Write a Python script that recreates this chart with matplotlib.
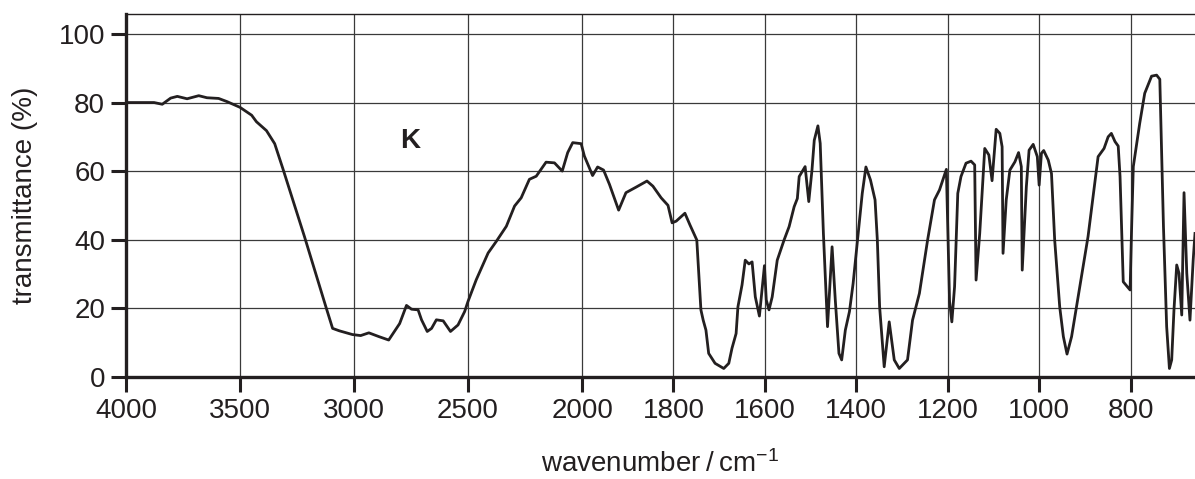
#!/usr/bin/env python3

import numpy as np
import matplotlib
matplotlib.use('Agg')
import matplotlib.pyplot as plt

plt.rcParams['font.family'] = ['Liberation Sans', 'DejaVu Sans']
plt.rcParams['mathtext.fontset'] = 'custom'
plt.rcParams['mathtext.rm'] = 'Liberation Sans'
plt.rcParams['mathtext.it'] = 'Liberation Sans'

INK = '#231f20'

# spectrum, 4000-2000 cm-1 part
wn_high = [4000, 3877, 3841, 3804, 3775, 3732, 3681, 3645, 3594, 3558,
           3500, 3449, 3428, 3384, 3348, 3312, 3217, 3123, 3094, 3065,
           3007, 2971, 2935, 2891, 2848, 2800, 2770, 2748, 2719, 2704,
           2679, 2660, 2639, 2609, 2577, 2544, 2515, 2500, 2464, 2412,
           2376, 2332, 2296, 2267, 2231, 2201, 2158, 2121, 2087, 2063,
           2041, 2004]
t_high = [80.0, 80.0, 79.5, 81.3, 81.8, 81.1, 82.0, 81.4, 81.2, 80.3,
          78.6, 76.3, 74.4, 71.8, 68.0, 60.7, 40.8, 20.3, 14.1, 13.4,
          12.3, 12.0, 12.8, 11.7, 10.7, 15.5, 20.8, 19.7, 19.5, 16.6,
          13.2, 14.1, 16.6, 16.3, 13.2, 15.1, 19.0, 22.0, 28.3, 36.1,
          39.5, 43.9, 49.8, 52.2, 57.6, 58.5, 62.6, 62.4, 60.0, 65.4,
          68.3, 68.0]

# fingerprint part, below 2000 cm-1
wn_low = [1995, 1977, 1966, 1953, 1940, 1920, 1904, 1882, 1858, 1845,
          1827, 1812, 1803, 1794, 1775, 1764, 1749, 1740, 1735, 1729,
          1723, 1709, 1690, 1679, 1672, 1663, 1659, 1650, 1643, 1635,
          1628, 1621, 1612, 1601, 1597, 1591, 1584, 1573, 1558, 1547,
          1536, 1529, 1525, 1512, 1504, 1497, 1492, 1484, 1479, 1472,
          1463, 1453, 1446, 1438, 1432, 1424, 1415, 1407, 1396, 1387,
          1379, 1369, 1359, 1354, 1349, 1339, 1328, 1317, 1306, 1288,
          1277, 1262, 1244, 1229, 1218, 1203, 1196, 1191, 1185, 1178,
          1171, 1160, 1149, 1141, 1138, 1130, 1119, 1110, 1103, 1094,
          1086, 1081, 1079, 1072, 1064, 1053, 1045, 1039, 1037, 1028,
          1022, 1013, 1004, 1000, 995, 990, 980, 973, 966, 955,
          947, 939, 929, 911, 893, 871, 858, 849, 842, 834,
          827, 823, 816, 801, 798, 794, 780, 769, 754, 743,
          736, 728, 721, 715, 710, 705, 699, 694, 688, 683,
          677, 670, 663, 659]
t_low = [64.4, 58.7, 61.2, 60.3, 56.1, 48.6, 53.7, 55.3, 57.1, 55.6,
         52.2, 50.0, 44.9, 45.4, 47.7, 44.3, 39.9, 19.5, 16.5, 13.6,
         6.8, 3.9, 2.4, 3.9, 8.3, 12.6, 20.4, 26.8, 34.0, 32.9,
         33.5, 23.3, 17.7, 32.4, 22.4, 19.5, 23.3, 34.0, 39.9, 43.8,
         49.6, 52.0, 58.4, 61.3, 51.1, 60.3, 69.0, 73.2, 68.1, 41.8,
         14.6, 37.9, 22.4, 6.8, 4.9, 13.6, 19.0, 27.2, 41.8, 53.5,
         61.2, 57.4, 51.6, 39.9, 20.4, 2.9, 16.0, 4.9, 2.4, 4.9,
         16.5, 24.3, 39.9, 51.6, 54.5, 60.5, 22.0, 16.0, 26.3, 53.5,
         58.4, 62.3, 62.9, 61.8, 28.2, 41.8, 66.6, 64.7, 57.2, 72.2,
         71.0, 67.1, 36.0, 51.6, 60.3, 62.7, 65.4, 61.3, 31.1, 55.4,
         66.1, 67.8, 64.2, 55.9, 65.2, 66.0, 63.2, 59.3, 39.9, 20.4,
         11.7, 6.6, 11.7, 26.3, 40.9, 64.2, 66.6, 70.0, 71.0, 68.6,
         67.3, 58.4, 27.7, 25.3, 41.8, 61.3, 73.9, 82.7, 87.7, 88.0,
         86.8, 43.8, 14.6, 2.4, 4.9, 19.5, 32.6, 30.2, 18.0, 53.7,
         30.2, 16.5, 34.0, 41.8]

x_ticks = [4000, 3500, 3000, 2500, 2000, 1800, 1600, 1400, 1200, 1000, 800]
y_ticks = [0, 20, 40, 60, 80, 100]


# the chart changes scale at 2000 cm-1 (500 per division above, 200 below)
def fwd(w):
    w = np.asarray(w, dtype=float)
    return np.where(w >= 2000, (w - 2000) / 500 * 114.0, (w - 2000) / 200 * 91.4)


def inv(p):
    p = np.asarray(p, dtype=float)
    return np.where(p >= 0, 2000 + p * 500 / 114.0, 2000 + p * 200 / 91.4)


def main():
    wn = wn_high + wn_low
    trans = t_high + t_low

    fig = plt.figure(figsize=(11.95, 4.79), dpi=100)
    ax = fig.add_axes([126 / 1195, 102.3 / 479, 1 - 126 / 1195, 362.4 / 479])

    ax.set_xscale('function', functions=(fwd, inv))
    ax.plot(wn, trans, color=INK, lw=2.0, solid_joinstyle='round', zorder=3)

    ax.set_xlim(4000, 659)
    ax.set_ylim(0, 105.75)
    ax.set_xticks(x_ticks)
    ax.set_xticklabels([str(t) for t in x_ticks])
    ax.set_yticks(y_ticks)
    ax.set_yticklabels([str(t) for t in y_ticks])
    ax.minorticks_off()

    ax.grid(True, color='#3a3a3a', lw=0.9, zorder=1)
    ax.tick_params(axis='both', length=11, width=2.2, color=INK,
                   labelsize=20, labelcolor=INK, pad=4)

    ax.spines['right'].set_visible(False)
    ax.spines['top'].set_linewidth(1.0)
    ax.spines['top'].set_color(INK)
    for s in ['left', 'bottom']:
        ax.spines[s].set_linewidth(2.4)
        ax.spines[s].set_color(INK)
        ax.spines[s].set_zorder(4)

    ax.set_ylabel('transmittance (%)', fontsize=20, color=INK, labelpad=15)
    ax.set_xlabel('wavenumber\u2009/\u2009cm$^{\u22121}$', fontsize=20, color=INK, labelpad=19)

    ax.text(2755, 68.7, 'K', fontsize=20, fontweight='bold', color=INK,
            ha='center', va='center')

    fig.savefig('out.png', dpi=100)
    plt.close(fig)


if __name__ == '__main__':
    main()
